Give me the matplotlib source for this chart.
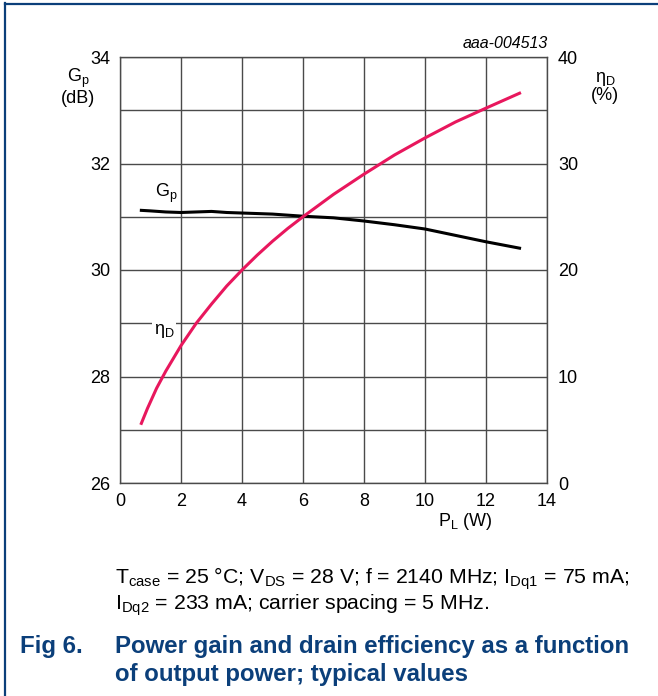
import numpy as np
import matplotlib
matplotlib.use('Agg')
import matplotlib.pyplot as plt
from matplotlib.lines import Line2D

plt.rcParams['font.family'] = ['Liberation Sans', 'DejaVu Sans']

# ================== DATA ==================
pl_gain = [0.7, 1.0, 1.5, 2.0, 2.5, 3.0, 3.5, 4.0, 5.0, 6.0, 7.0, 8.0, 9.0, 10.0, 11.0, 12.0, 13.1]
gain_db = [31.12, 31.11, 31.09, 31.08, 31.09, 31.10, 31.08, 31.07, 31.05, 31.01, 30.98, 30.92, 30.85,
           30.77, 30.65, 30.53, 30.41]

pl_eff = [0.7, 0.9, 1.2, 1.5, 2.0, 2.5, 3.0, 3.5, 4.0, 4.5, 5.0, 5.5, 6.0, 7.0, 8.0, 9.0, 10.0,
          11.0, 12.0, 13.1]
eff_pct = [5.6, 7.0, 8.9, 10.5, 12.9, 15.0, 16.8, 18.5, 20.0, 21.4, 22.7, 23.9, 25.0, 27.1, 29.0,
           30.8, 32.4, 33.9, 35.2, 36.6]

x_ticks = [0, 2, 4, 6, 8, 10, 12, 14]
gain_ticks = [26, 28, 30, 32, 34]
eff_ticks = [0, 10, 20, 30, 40]

navy = '#0b3f7a'
grid_c = '#4a4a4a'

# ================== FIGURE ==================
fig = plt.figure(figsize=(6.58, 6.96), dpi=100)

# page border (left and top)
fig.add_artist(Line2D([4.5 / 658, 4.5 / 658], [0, 1 - 3 / 696], color=navy, lw=1.6,
                      transform=fig.transFigure))
fig.add_artist(Line2D([4.5 / 658, 1], [1 - 3.5 / 696, 1 - 3.5 / 696], color=navy, lw=1.6,
                      transform=fig.transFigure))

ax = fig.add_axes([120 / 658, 1 - 483 / 696, 427 / 658, 426 / 696])
ax.set_xlim(0, 14)
ax.set_ylim(26, 34)
ax.set_xticks(x_ticks)
ax.set_yticks(gain_ticks)
ax.set_yticks(np.arange(26, 35, 1), minor=True)
ax.tick_params(which='both', length=0, labelsize=13, pad=7)
ax.grid(True, which='both', color=grid_c, lw=1.0)
for s in ax.spines.values():
    s.set_color(grid_c)
    s.set_linewidth(1.0)

ax2 = ax.twinx()
ax2.set_ylim(0, 40)
ax2.set_yticks(eff_ticks)
ax2.tick_params(length=0, labelsize=13, pad=8)
for s in ax2.spines.values():
    s.set_visible(False)

# curves
ax.plot(pl_gain, gain_db, color='black', lw=2.2, zorder=4)
ax2.plot(pl_eff, eff_pct, color='#e8175d', lw=2.2, zorder=4)

# curve labels
ax.text(1.15, 31.22, r'G$_\mathregular{p}$', fontsize=13, ha='left', va='bottom', zorder=5)
ax.text(1.1, 28.85, r'η$_\mathregular{D}$', fontsize=13, ha='left', va='center', zorder=5,
        bbox=dict(facecolor='white', edgecolor='none', pad=1.0))

# axis labels
fig.text(78 / 658, 1 - 87 / 696, 'G$_\\mathregular{p}$\n(dB)', fontsize=13, ha='center', va='center',
         linespacing=1.0)
fig.text(605 / 658, 1 - 87 / 696, 'η$_\\mathregular{D}$\n(%)', fontsize=13, ha='center', va='center',
         linespacing=1.0)
fig.text(465 / 658, 1 - 521 / 696, 'P$_\\mathregular{L}$ (W)', fontsize=13, ha='center', va='center')
fig.text(548 / 658, 1 - 44 / 696, 'aaa-004513', fontsize=11.5, style='italic', ha='right', va='center')

# caption
fig.text(115 / 658, 1 - 579 / 696,
         r'T$_\mathregular{case}$ = 25 °C; V$_\mathregular{DS}$ = 28 V; f = 2140 MHz; '
         r'I$_\mathregular{Dq1}$ = 75 mA;', fontsize=15.3, ha='left', va='center')
fig.text(115 / 658, 1 - 605 / 696,
         r'I$_\mathregular{Dq2}$ = 233 mA; carrier spacing = 5 MHz.', fontsize=15.3, ha='left', va='center')

fig.text(20 / 658, 1 - 646 / 696, 'Fig 6.', fontsize=17.3, weight='bold', color=navy,
         ha='left', va='center')
fig.text(115 / 658, 1 - 646 / 696, 'Power gain and drain efficiency as a function',
         fontsize=17.3, weight='bold', color=navy, ha='left', va='center')
fig.text(115 / 658, 1 - 674 / 696, 'of output power; typical values',
         fontsize=17.3, weight='bold', color=navy, ha='left', va='center')

fig.savefig('out.png', dpi=100)
